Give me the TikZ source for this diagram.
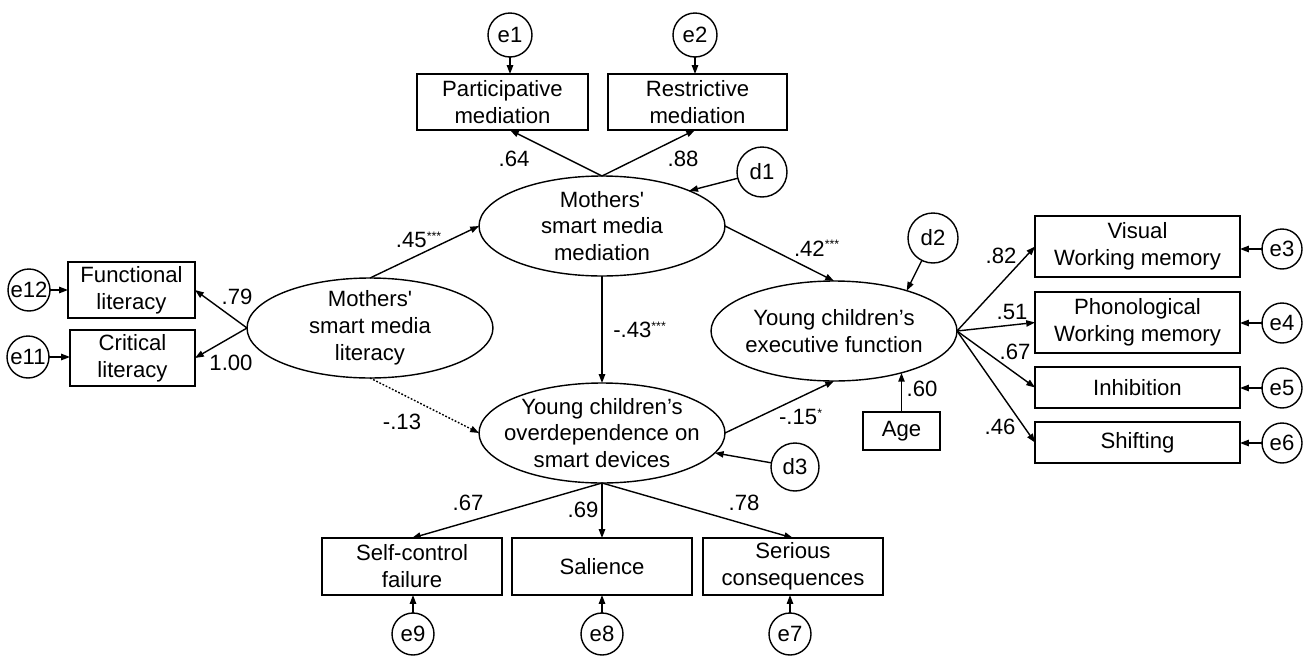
\documentclass[tikz,border=0pt]{standalone}
\usepackage{fontspec}
\setmainfont{Liberation Sans}
\usetikzlibrary{arrows.meta,shapes.geometric,calc}
\newcommand\sigmark[1]{\textsuperscript{\fontsize{7}{7}\selectfont #1}}
\begin{document}
\begin{tikzpicture}[x=0.02cm,y=-0.02cm,
  every node/.style={font=\fontsize{12.6}{15.3}\selectfont},
  obs/.style={draw, rectangle, line width=0.8pt, inner sep=0pt, outer sep=0pt, align=center},
  lat/.style={draw, ellipse, line width=0.8pt, minimum width=4.92cm, minimum height=2cm, inner sep=0pt, outer sep=0pt},
  lattext/.style={align=center, inner sep=0pt},
  err/.style={draw, circle, line width=0.8pt, inner sep=0pt, outer sep=0pt, minimum size=0.84cm},
  coef/.style={inner sep=0pt},
  arr/.style={-{Triangle[length=5pt,width=3.6pt]}, line width=0.8pt}]
\useasboundingbox (0,0) rectangle (1308,656);

% latent variables
\node[lat, label={[lattext]center:{Mothers\textquotesingle\\smart media\\literacy}}] (lit) at (370,328) {};
\node[lat, label={[lattext]center:{Mothers\textquotesingle\\smart media\\mediation}}] (med) at (602,226) {};
\node[lat, label={[lattext]center:{Young children’s\\executive function}}] (exec) at (834,331) {};
\node[lat, label={[lattext]center:{Young children’s\\overdependence on\\smart devices}}] (over) at (602,433) {};

% observed variables
\node[obs, minimum width=2.54cm, minimum height=1.12cm] (func) at (131.5,290) {Functional\\literacy};
\node[obs, minimum width=2.50cm, minimum height=1.12cm] (crit) at (132.5,358) {Critical\\literacy};
\node[obs, minimum width=3.42cm, minimum height=1.12cm] (part) at (502.5,102) {Participative\\mediation};
\node[obs, minimum width=3.58cm, minimum height=1.12cm] (rest) at (697.5,102) {Restrictive\\mediation};
\node[obs, minimum width=4.10cm, minimum height=1.22cm] (vwm) at (1137.5,246.5) {Visual\\Working memory};
\node[obs, minimum width=4.10cm, minimum height=1.22cm] (phon) at (1137.5,322.5) {Phonological\\Working memory};
\node[obs, minimum width=4.10cm, minimum height=0.82cm] (inh) at (1137.5,387.5) {Inhibition};
\node[obs, minimum width=4.10cm, minimum height=0.82cm] (shift) at (1137.5,442.5) {Shifting};
\node[obs, minimum width=1.54cm, minimum height=0.76cm] (age) at (901.5,431) {Age};
\node[obs, minimum width=3.60cm, minimum height=1.14cm] (scf) at (412,566.5) {Self-control\\failure};
\node[obs, minimum width=3.60cm, minimum height=1.14cm] (sal) at (602,566.5) {Salience};
\node[obs, minimum width=3.60cm, minimum height=1.14cm] (ser) at (793,566.5) {Serious\\consequences};

% error terms
\node[err, minimum size=0.88cm] (e1) at (510,35) {e1};
\node[err, minimum size=0.88cm] (e2) at (695,35) {e2};
\node[err, minimum size=1.0cm] (d1) at (762,172) {d1};
\node[err, minimum size=1.0cm] (d2) at (933,238) {d2};
\node[err, minimum size=0.96cm] (d3) at (795,467) {d3};
\node[err, minimum size=0.80cm] (e3) at (1282,249) {e3};
\node[err, minimum size=0.80cm] (e4) at (1282,323) {e4};
\node[err, minimum size=0.80cm] (e5) at (1282,388) {e5};
\node[err, minimum size=0.80cm] (e6) at (1282,443) {e6};
\node[err] (e12) at (29,290) {e12};
\node[err] (e11) at (28,357) {e11};
\node[err] (e9) at (413,634) {e9};
\node[err] (e8) at (602,634) {e8};
\node[err] (e7) at (790,634) {e7};

% paths
\draw[arr] (lit.north) -- (med.west);
\draw[arr] (lit.west) -- (func.east);
\draw[arr] (lit.west) -- (crit.east);
\draw[arr] (e12) -- (e12 -| func.west);
\draw[arr] (e11) -- (e11 -| crit.west);
\draw[arr] (med.north) -- (part.south -| e1);
\draw[arr] (med.north) -- (rest.south -| e2);
\draw[arr] (e1) -- (e1 |- part.north);
\draw[arr] (e2) -- (e2 |- rest.north);
\draw[arr] (d1) -- (med.22);
\draw[arr] (med.east) -- (exec.north);
\draw[arr] (d2) -- (exec.29);
\draw[arr] (med.south) -- (over.north);
\draw[arr, dash pattern=on 1pt off 1pt] (lit.south) -- (over.west);
\draw[arr] (over.east) -- (exec.south);
\draw[arr] (d3) -- (over.350);
\draw[arr] (age.north) -- (age.north |- exec.328.5);
\draw[arr] (exec.east) -- (vwm.west);
\draw[arr] (exec.east) -- (phon.west);
\draw[arr] (exec.east) -- (inh.west);
\draw[arr] (exec.east) -- (shift.west);
\draw[arr] (e3) -- (e3 -| vwm.east);
\draw[arr] (e4) -- (e4 -| phon.east);
\draw[arr] (e5) -- (e5 -| inh.east);
\draw[arr] (e6) -- (e6 -| shift.east);
\draw[arr] (over.south) -- (scf.north);
\draw[arr] (over.south) -- (sal.north);
\draw[arr] (over.south) -- (ser.north);
\draw[arr] (e9) -- (e9 |- scf.south);
\draw[arr] (e8) -- (e8 |- sal.south);
\draw[arr] (e7) -- (e7 |- ser.south);

% coefficients
\node[coef] (c45) at (419,240) {.45\sigmark{***}};
\node[coef] (c79) at (237,297) {.79};
\node[coef] (c100) at (231,363) {1.00};
\node[coef] (c64) at (514,159) {.64};
\node[coef] (c88) at (683,159) {.88};
\node[coef] (c42) at (817,248) {.42\sigmark{***}};
\node[coef] (c43) at (640,330) {-.43\sigmark{***}};
\node[coef] (c15) at (801,417) {-.15\sigmark{*}};
\node[coef] (c13) at (402,422) {-.13};
\node[coef] (c67b) at (468,503) {.67};
\node[coef] (c69) at (583,510) {.69};
\node[coef] (c78) at (744,503) {.78};
\node[coef] (c60) at (922,389) {.60};
\node[coef] (c82) at (1001,256) {.82};
\node[coef] (c51) at (1012,312) {.51};
\node[coef] (c67r) at (1015,352) {.67};
\node[coef] (c46) at (1000,427) {.46};
\end{tikzpicture}
\end{document}
